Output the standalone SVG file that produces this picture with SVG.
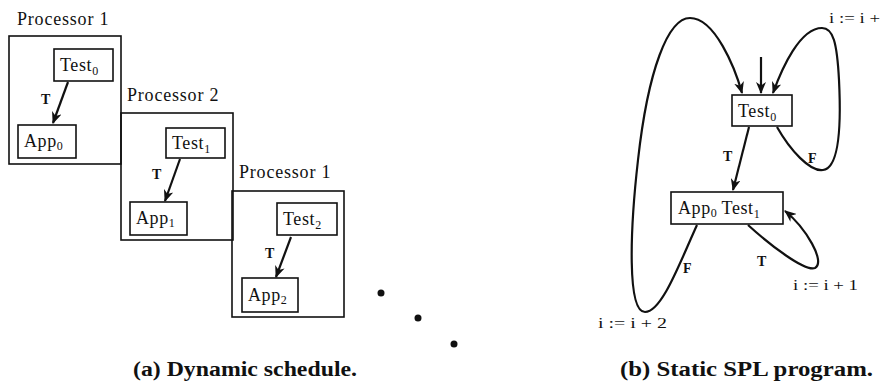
<svg xmlns="http://www.w3.org/2000/svg" width="884" height="385" viewBox="0 0 884 385">
<style>
text{font-family:"Liberation Serif","Times New Roman",serif;fill:#111}
.lbl{font-size:18px;letter-spacing:0.8px}
.nd{font-size:18px;letter-spacing:0.6px}
.sub{font-size:12px;letter-spacing:0}
.small{font-size:14px;font-weight:bold}
.asg{font-size:14.5px}
.cap{font-size:20px;font-weight:bold}
.frame{fill:none;stroke:#111;stroke-width:1.6}
.box{fill:#fff;stroke:#111;stroke-width:1.6}
.edge{fill:none;stroke:#111;stroke-width:2.2;marker-end:url(#ah)}
</style>
<defs>
<marker id="ah" viewBox="0 0 12 10" refX="11" refY="5" markerWidth="12" markerHeight="10" markerUnits="userSpaceOnUse" orient="auto">
<path d="M0,0 L12,5 L0,10 L3.5,5 z" fill="#111"/>
</marker>
</defs>
<rect width="884" height="385" fill="#fff"/>

<g id="proc1">
<rect class="frame" x="9" y="36" width="112" height="128"/>
<text class="lbl" x="17" y="25">Processor 1</text>
</g>
<g id="proc2">
<rect class="frame" x="121" y="113" width="112" height="127"/>
<text class="lbl" x="127" y="101">Processor 2</text>
</g>
<g id="proc3">
<rect class="frame" x="232" y="191" width="112" height="126"/>
<text class="lbl" x="239" y="178">Processor 1</text>
</g>

<g id="test0a"><rect class="box" x="54" y="49" width="59" height="32"/><text class="nd" x="60" y="71">Test<tspan class="sub" dy="4">0</tspan></text></g>
<g id="app0a"><rect class="box" x="18" y="125" width="58" height="33"/><text class="nd" x="24" y="147">App<tspan class="sub" dy="3">0</tspan></text></g>
<g id="test1a"><rect class="box" x="166" y="128" width="59" height="30"/><text class="nd" x="172" y="149">Test<tspan class="sub" dy="4">1</tspan></text></g>
<g id="app1a"><rect class="box" x="130" y="202" width="57" height="33"/><text class="nd" x="136" y="224">App<tspan class="sub" dy="3">1</tspan></text></g>
<g id="test2a"><rect class="box" x="277" y="203" width="60" height="32"/><text class="nd" x="283" y="225">Test<tspan class="sub" dy="4">2</tspan></text></g>
<g id="app2a"><rect class="box" x="242" y="278" width="56" height="34"/><text class="nd" x="248" y="301">App<tspan class="sub" dy="3">2</tspan></text></g>

<g id="dots" fill="#111">
<circle cx="381" cy="293" r="3.5"/>
<circle cx="418" cy="318" r="3.5"/>
<circle cx="454" cy="344" r="3.5"/>
</g>

<g id="test0b"><rect class="box" x="732" y="95" width="60" height="31"/><text class="nd" x="738" y="117">Test<tspan class="sub" dy="4">0</tspan></text></g>
<g id="app0test1b"><rect class="box" x="671" y="192" width="112" height="32"/><text class="nd" x="678" y="214">App<tspan class="sub" dy="3">0</tspan><tspan dy="-3"> Test</tspan><tspan class="sub" dy="4">1</tspan></text></g>

<g id="connectors">
<path class="edge" d="M68,82 L53,123"/>
<path class="edge" d="M180,159 L165,201"/>
<path class="edge" d="M291,237 L276,277"/>
<path class="edge" d="M761,57 L761,93"/>
<path class="edge" d="M749,127 L733,190"/>
<path class="edge" d="M697,225 C680,262 662,312 645,312 C627,312 630,230 638,160 C648,70 668,18 690,18 C715,18 735,68 742,93"/>
<path class="edge" d="M777,127 C790,150 810,172 823,170 C840,168 841,120 839,80 C837,42 833,28 822,28 C800,28 782,68 773,93"/>
<path class="edge" d="M748,225 C770,245 805,272 815,268 C826,262 806,228 785,211"/>
</g>

<g id="labels">
<text class="small" x="41" y="104">T</text>
<text class="small" x="152" y="179">T</text>
<text class="small" x="265" y="258">T</text>
<text class="small" x="723" y="161">T</text>
<text class="small" x="808" y="163">F</text>
<text class="small" x="683" y="273">F</text>
<text class="small" x="757" y="266">T</text>
<text class="asg" x="829" y="23" textLength="51" lengthAdjust="spacingAndGlyphs">i := i +</text>
<text class="asg" x="793" y="290" textLength="65" lengthAdjust="spacingAndGlyphs">i := i + 1</text>
<text class="asg" x="598" y="328" textLength="69" lengthAdjust="spacingAndGlyphs">i := i + 2</text>
<text class="cap" x="133" y="376" textLength="224" lengthAdjust="spacingAndGlyphs">(a) Dynamic schedule.</text>
<text class="cap" x="620" y="376" textLength="253" lengthAdjust="spacingAndGlyphs">(b) Static SPL program.</text>
</g>
</svg>
